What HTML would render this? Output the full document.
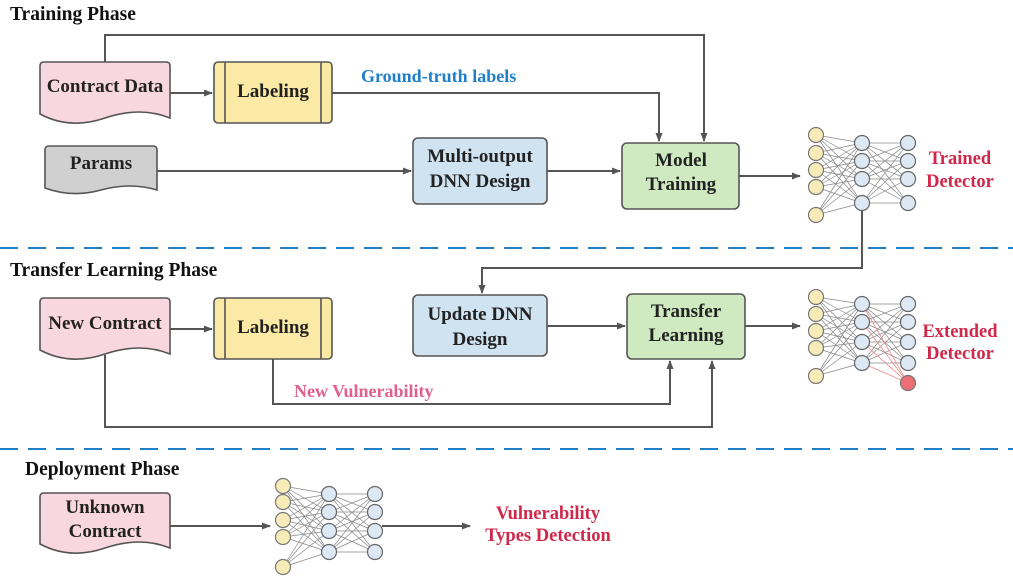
<!DOCTYPE html>
<html><head><meta charset="utf-8"><style>
html,body{margin:0;padding:0;background:#fff;}
svg{display:block;font-family:"Liberation Serif",serif;font-weight:bold;}
</style></head><body>
<svg id="s" width="1013" height="580" viewBox="0 0 1013 580" xmlns="http://www.w3.org/2000/svg">
<defs>
<marker id="a" viewBox="0 0 10 10" refX="9" refY="5" markerWidth="9" markerHeight="9" orient="auto" markerUnits="userSpaceOnUse"><path d="M0,1 L10,5 L0,9 Z" fill="#555"/></marker>
</defs>
<g font-size="19.5" fill="#111">
<text x="10" y="20">Training Phase</text>
<text x="10" y="276">Transfer Learning Phase</text>
<text x="25" y="475">Deployment Phase</text>
</g>
<g stroke="#1f7fc8" stroke-width="2" stroke-dasharray="18,10">
<line x1="0" y1="248" x2="1013" y2="248"/>
<line x1="0" y1="449" x2="1013" y2="449"/>
</g>
<g fill="none" stroke="#555" stroke-width="2">
<polyline points="105,62 105,35 704,35 704,141" marker-end="url(#a)"/>
<polyline points="332,93 659,93 659,141" marker-end="url(#a)"/>
<line x1="170" y1="93" x2="212" y2="93" marker-end="url(#a)"/>
<line x1="157" y1="171" x2="411" y2="171" marker-end="url(#a)"/>
<line x1="547" y1="171" x2="620" y2="171" marker-end="url(#a)"/>
<line x1="739" y1="176" x2="800" y2="176" marker-end="url(#a)"/>
<polyline points="862,203 862,268 482,268 482,293" marker-end="url(#a)"/>
<line x1="170" y1="329" x2="212" y2="329" marker-end="url(#a)"/>
<line x1="547" y1="326" x2="625" y2="326" marker-end="url(#a)"/>
<line x1="745" y1="326" x2="800" y2="326" marker-end="url(#a)"/>
<polyline points="273,359 273,404 670,404 670,361" marker-end="url(#a)"/>
<polyline points="105,355 105,427 712,427 712,361" marker-end="url(#a)"/>
<line x1="170" y1="526" x2="270" y2="526" marker-end="url(#a)"/>
<line x1="382" y1="526" x2="470" y2="526" marker-end="url(#a)"/>
</g>
<g stroke="#555" stroke-width="1.6">
<path d="M44,62 H166 Q170,62 170,66 V118 Q140,106 105,118 T40,114 V66 Q40,62 44,62 Z" fill="#f9d7e0"/>
<path d="M49,146 H153 Q157,146 157,150 V190 Q130,182 101,190 T45,188 V150 Q45,146 49,146 Z" fill="#d0d0d0"/>
<path d="M44,298 H166 Q170,298 170,302 V354 Q140,342 105,354 T40,350 V302 Q40,298 44,298 Z" fill="#f9d7e0"/>
<path d="M44,493 H166 Q170,493 170,497 V548 Q140,536 105,548 T40,544 V497 Q40,493 44,493 Z" fill="#f9d7e0"/>
<rect x="214" y="62" width="118" height="61" rx="4" fill="#fbe9a6"/>
<line x1="225" y1="62" x2="225" y2="123"/><line x1="321" y1="62" x2="321" y2="123"/>
<rect x="214" y="298" width="118" height="61" rx="4" fill="#fbe9a6"/>
<line x1="225" y1="298" x2="225" y2="359"/><line x1="321" y1="298" x2="321" y2="359"/>
<rect x="413" y="138" width="134" height="66" rx="5" fill="#cfe3f1"/>
<rect x="622" y="143" width="117" height="66" rx="5" fill="#cfeac0"/>
<rect x="413" y="295" width="134" height="61" rx="5" fill="#cfe3f1"/>
<rect x="627" y="294" width="118" height="65" rx="5" fill="#cfeac0"/>
</g>
<g font-size="19" fill="#222" text-anchor="middle">
<text x="105" y="92">Contract Data</text>
<text x="273" y="97">Labeling</text>
<text x="101" y="169">Params</text>
<text x="480" y="162">Multi-output</text><text x="480" y="187">DNN Design</text>
<text x="681" y="166">Model</text><text x="681" y="190">Training</text>
<text x="105" y="329">New Contract</text>
<text x="273" y="333">Labeling</text>
<text x="480" y="320">Update DNN</text><text x="480" y="345">Design</text>
<text x="686" y="317">Transfer</text><text x="686" y="341">Learning</text>
<text x="105" y="513">Unknown</text><text x="105" y="537">Contract</text>
</g>
<text x="361" y="82" font-size="18" fill="#1f7fc8">Ground-truth labels</text>
<text x="294" y="397" font-size="18" fill="#e0608c">New Vulnerability</text>
<g font-size="18.5" fill="#d0284a" text-anchor="middle">
<text x="960" y="164">Trained</text><text x="960" y="187">Detector</text>
<text x="960" y="337">Extended</text><text x="960" y="359">Detector</text>
<text x="548" y="519">Vulnerability</text><text x="548" y="541">Types Detection</text>
</g>
<g id="nn"></g>
</svg>
<script>
var g=document.getElementById('nn'),NS='http://www.w3.org/2000/svg';
function el(t,a){var e=document.createElementNS(NS,t);for(var k in a)e.setAttribute(k,a[k]);g.appendChild(e);return e;}
function net(x0,inp,h,o,red){
 var x1=x0+46,x2=x0+92;
 inp.forEach(function(a){h.forEach(function(b){el('line',{x1:x0,y1:a,x2:x1,y2:b,stroke:'#888','stroke-width':0.7});});});
 h.forEach(function(a){o.forEach(function(b){el('line',{x1:x1,y1:a,x2:x2,y2:b,stroke:'#888','stroke-width':0.7});});});
 if(red)h.forEach(function(a){el('line',{x1:x1,y1:a,x2:x2,y2:red,stroke:'#e88','stroke-width':0.8});});
 inp.forEach(function(y){el('circle',{cx:x0,cy:y,r:7.5,fill:'#f7ecb8',stroke:'#777','stroke-width':1.2});});
 h.forEach(function(y){el('circle',{cx:x1,cy:y,r:7.5,fill:'#dce8f3',stroke:'#666','stroke-width':1.2});});
 o.forEach(function(y){el('circle',{cx:x2,cy:y,r:7.5,fill:'#dce8f3',stroke:'#666','stroke-width':1.2});});
 if(red)el('circle',{cx:x2,cy:red,r:7.5,fill:'#ee6f73',stroke:'#777','stroke-width':1.2});
}
net(816,[135,153,170,187,215],[143,161,179,203],[143,161,179,203]);
net(816,[297,314,331,348,376],[304,322,342,363],[304,322,342,363],383);
net(283,[486,502,520,537,567],[494,512,531,552],[494,512,531,552]);
</script>
</body></html>
